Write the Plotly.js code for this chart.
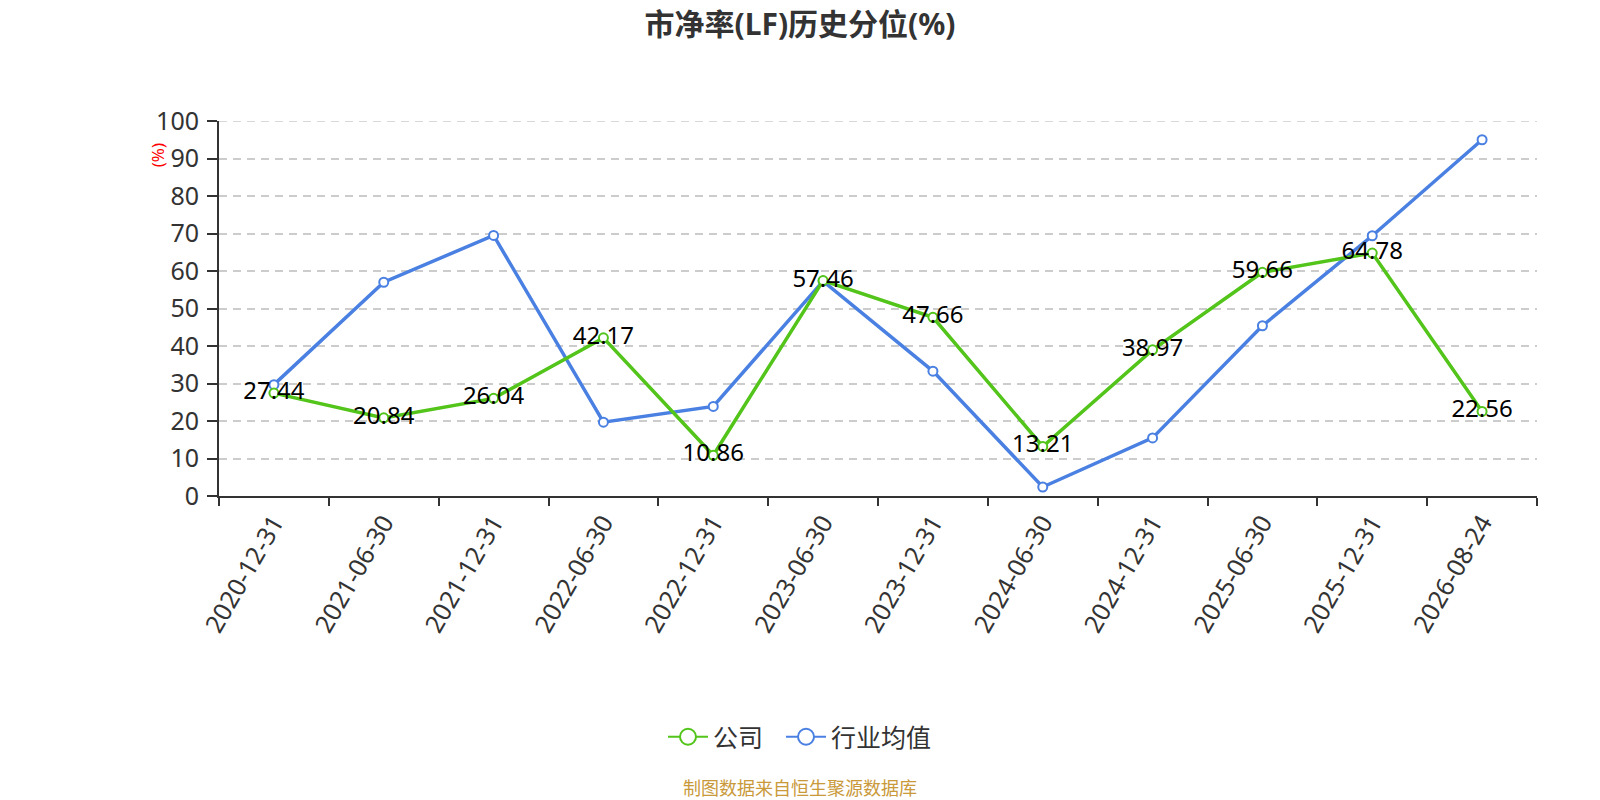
<!DOCTYPE html>
<html>
<head>
<meta charset="utf-8">
<script src="https://cdn.plot.ly/plotly-3.0.1.min.js"></script>
<style>
html,body{margin:0;padding:0;background:#fff;}
#chart{width:1600px;height:800px;}
</style>
</head>
<body>
<div id="chart"></div>
<script>
const categories = ["2020-12-31","2021-06-30","2021-12-31","2022-06-30","2022-12-31","2023-06-30","2023-12-31","2024-06-30","2024-12-31","2025-06-30","2025-12-31","2026-08-24"];
const companyValues = [27.44,20.84,26.04,42.17,10.86,57.46,47.66,13.21,38.97,59.66,64.78,22.56];
const industryValues = [29.7,57.0,69.5,19.7,23.9,57.3,33.3,2.4,15.5,45.4,69.4,95.0];
const yTicks = [0,10,20,30,40,50,60,70,80,90,100];
const seriesNames = ["公司","行业均值"];

const FONT = "'Noto Sans', 'Noto Sans CJK SC', sans-serif";
const GREEN = "#52c41a";
const BLUE = "#4a80e2";

const traces = [
  {
    x: categories, y: industryValues, type: "scatter", mode: "lines+markers",
    name: seriesNames[1], showlegend: false,
    line: {color: BLUE, width: 3.5},
    marker: {symbol: "circle", size: 9, color: "#fff", line: {color: BLUE, width: 2}},
    hoverinfo: "x+y"
  },
  {
    x: categories, y: companyValues, type: "scatter", mode: "lines+markers+text",
    name: seriesNames[0], showlegend: false,
    text: companyValues.map(v => v.toFixed(2)),
    textposition: "middle center",
    textfont: {family: FONT, size: 24, color: "#000"},
    line: {color: GREEN, width: 3.5},
    marker: {symbol: "circle", size: 9, color: "#fff", line: {color: GREEN, width: 2}},
    hoverinfo: "x+y"
  },
  {
    x: [null], y: [null], type: "scatter", mode: "lines+markers",
    name: seriesNames[0] + "  ", showlegend: true,
    line: {color: GREEN, width: 2},
    marker: {symbol: "circle", size: 16, color: "#fff", line: {color: GREEN, width: 2}}
  },
  {
    x: [null], y: [null], type: "scatter", mode: "lines+markers",
    name: seriesNames[1], showlegend: true,
    line: {color: BLUE, width: 2},
    marker: {symbol: "circle", size: 16, color: "#fff", line: {color: BLUE, width: 2}}
  }
];

const layout = {
  width: 1600, height: 800,
  paper_bgcolor: "#fff", plot_bgcolor: "#fff",
  margin: {l: 219, r: 63, t: 121, b: 304},
  font: {family: FONT, color: "#333"},
  title: {
    text: "<b>市净率(LF)历史分位(%)</b>",
    x: 0.5, xref: "container", xanchor: "center",
    y: 1 - 24/800, yref: "container", yanchor: "middle",
    font: {family: FONT, size: 30, color: "#333"}
  },
  xaxis: {
    type: "category",
    categoryorder: "array", categoryarray: categories,
    range: [-0.5, categories.length - 0.5],
    tickson: "boundaries",
    ticks: "outside", ticklen: 8, tickwidth: 2, tickcolor: "#333",
    showline: true, linecolor: "#333", linewidth: 2,
    showgrid: false, zeroline: false,
    tickangle: -60,
    tickfont: {family: FONT, size: 25, color: "#333"},
    fixedrange: true
  },
  yaxis: {
    range: [0, 100],
    tickvals: yTicks, ticktext: yTicks.map(String),
    ticks: "outside", ticklen: 10, tickwidth: 2, tickcolor: "#333",
    showline: true, linecolor: "#333", linewidth: 2,
    showgrid: true, gridcolor: "#cccccc", gridwidth: 1.5, griddash: "8px,6px",
    zeroline: false,
    tickfont: {family: FONT, size: 25, color: "#333"},
    ticklabelstandoff: 3,
    fixedrange: true
  },
  shapes: [
    {type: "line", xref: "paper", yref: "y", x0: 0, x1: 1, y0: yTicks[yTicks.length-1], y1: yTicks[yTicks.length-1],
     line: {color: "#cccccc", width: 1.5, dash: "8px,6px"}, layer: "below"}
  ],
  legend: {
    orientation: "h",
    x: 0.5, xref: "container", xanchor: "center",
    y: 1 - 737/800, yref: "container", yanchor: "middle",
    font: {family: FONT, size: 25, color: "#333"},
    itemwidth: 40
  },
  annotations: [
    {
      text: "(%)", textangle: -90, showarrow: false,
      xref: "paper", yref: "paper",
      x: (157 - 219) / 1318, y: (496.5 - 155) / 375.8,
      xanchor: "center", yanchor: "middle",
      font: {family: FONT, size: 17, color: "#ff0000"}
    },
    {
      text: "制图数据来自恒生聚源数据库", showarrow: false,
      xref: "paper", yref: "paper",
      x: (800 - 219) / 1318, y: (496.5 - 789) / 375.8,
      xanchor: "center", yanchor: "middle",
      font: {family: FONT, size: 18, color: "#c9993a"}
    }
  ],
  hovermode: "closest"
};

Plotly.newPlot("chart", traces, layout, {displayModeBar: false, staticPlot: false});
</script>
</body>
</html>
